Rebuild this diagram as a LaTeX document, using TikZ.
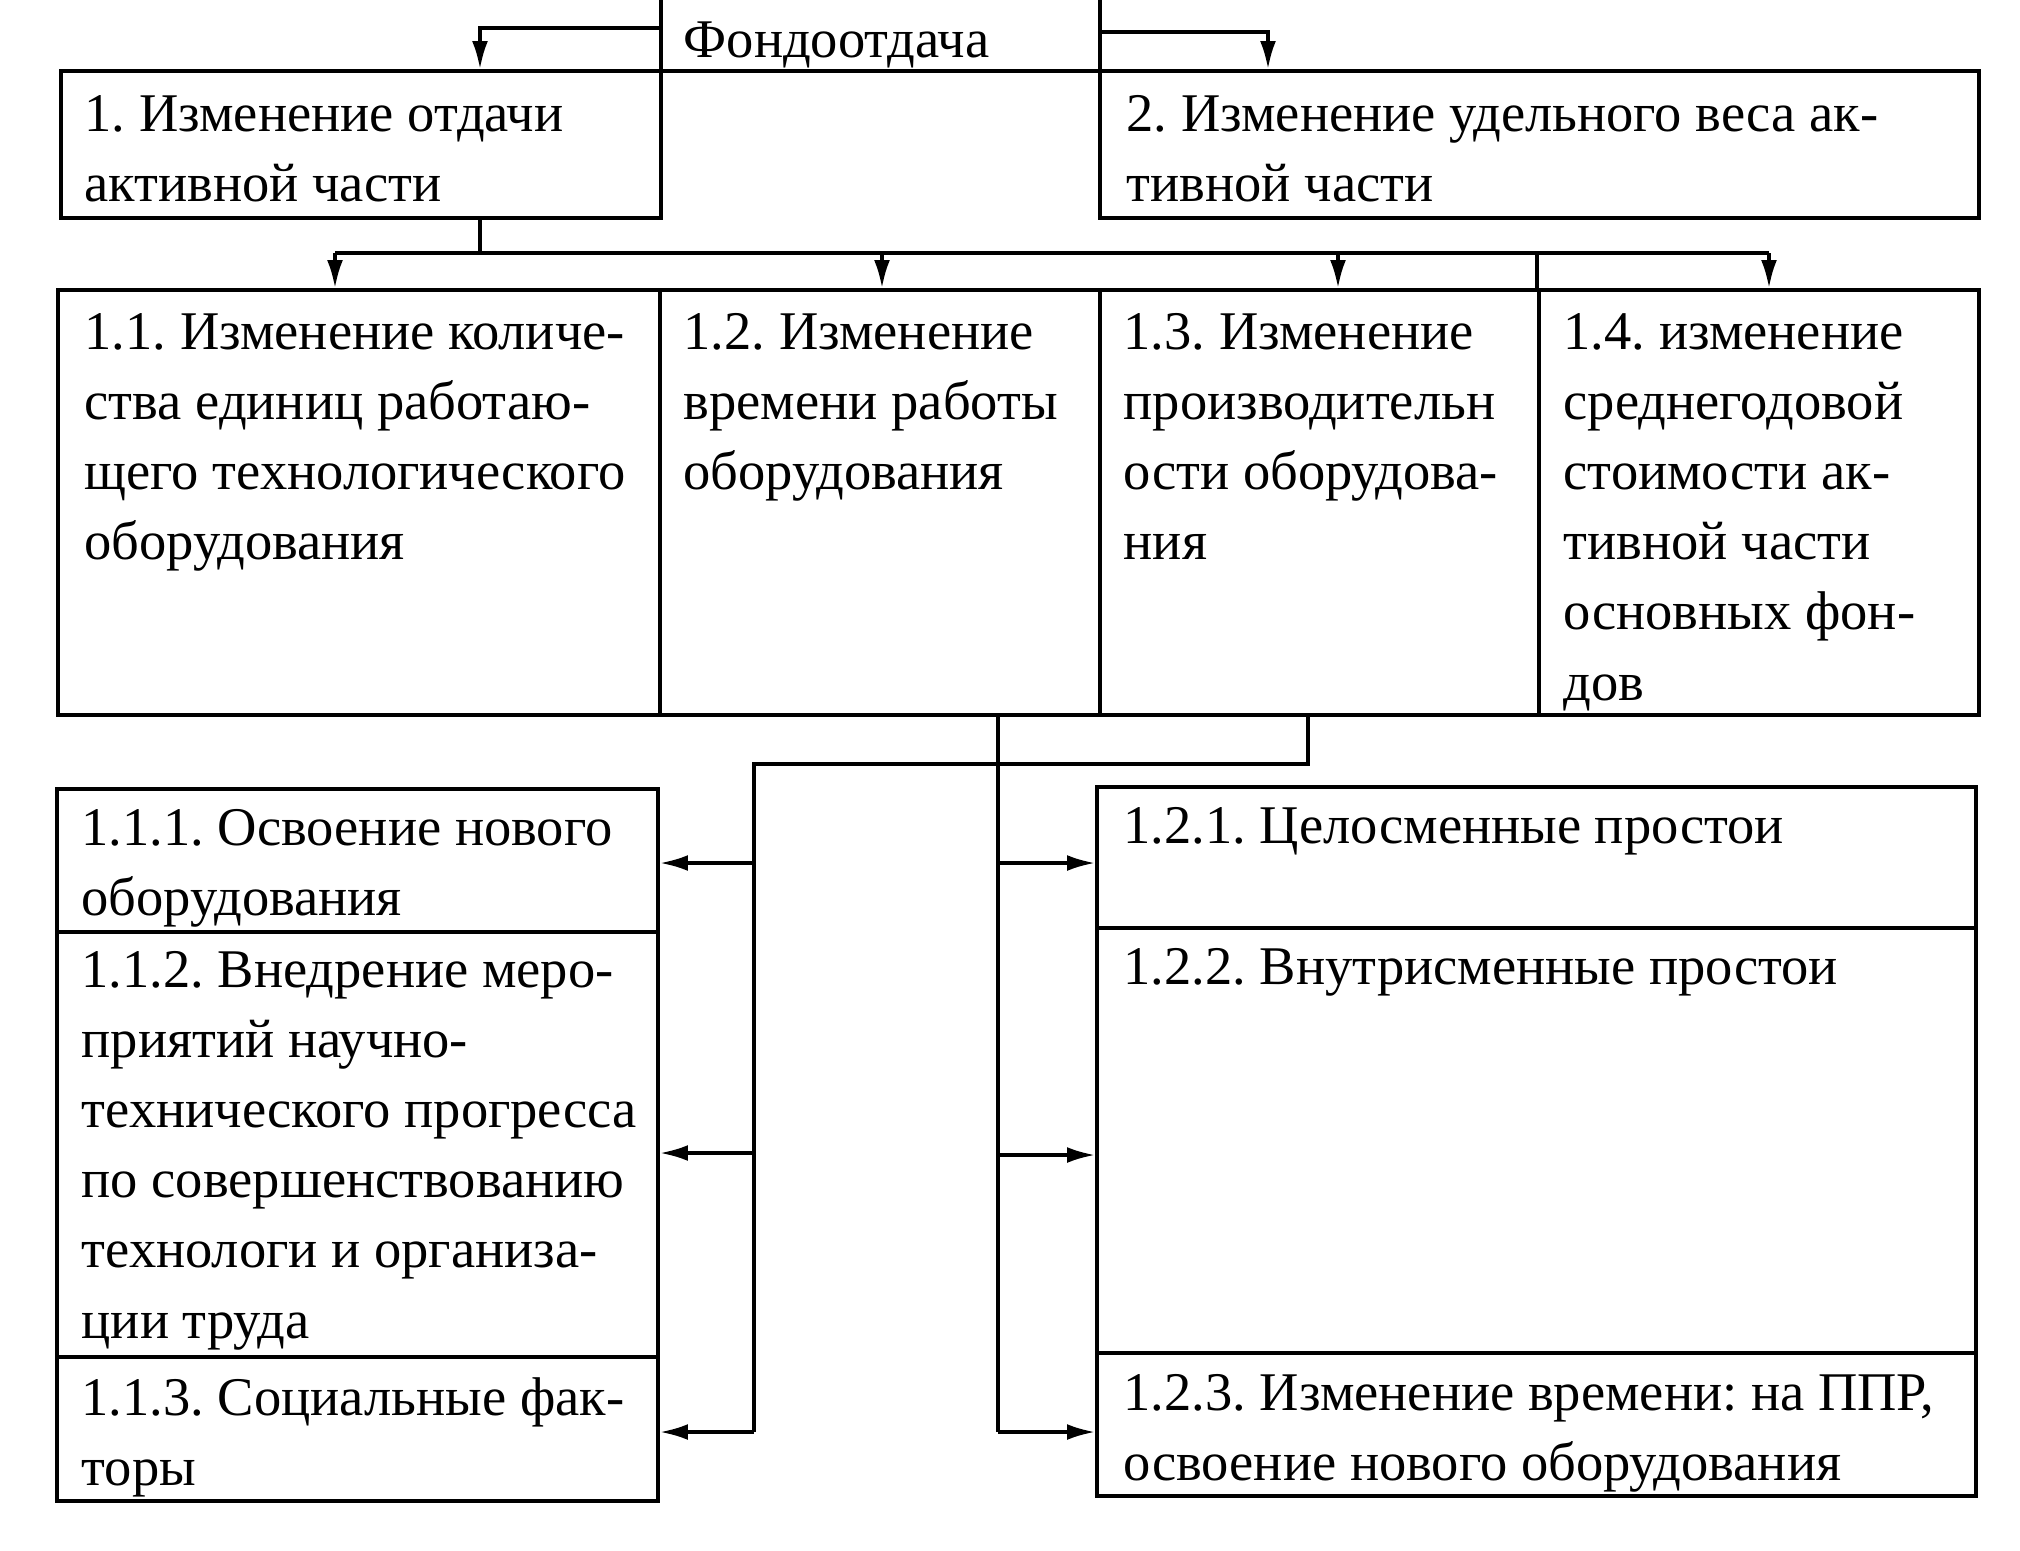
\documentclass[tikz,border=0pt]{standalone}
\usepackage{fontspec}
\setmainfont{Liberation Serif}
\usetikzlibrary{arrows.meta,fit,calc}
\newcommand\firstline{\rule{0pt}{0.56cm}}
\begin{document}
\frenchspacing
\begin{tikzpicture}[x=0.01cm,y=-0.01cm,
  boxs/.style={draw, line width=1pt, inner sep=0pt, rectangle},
  txt/.style={anchor=north west, inner sep=0pt, align=left, font=\fontsize{15.5}{19.92}\selectfont\frenchspacing},
  conn/.style={line width=1pt},
  arr/.style={conn, -{Latex[length=8pt,width=4.5pt]}}]
\fill[white] (0,0) rectangle (2020,1550);
\useasboundingbox (0,0) rectangle (2020,1550);

% boxes
\node[boxs, fit={(661,-5) (1100,71)}] (f) {};
\node[boxs, fit={(61,71) (661,218)}] (b1) {};
\node[boxs, fit={(1100,71) (1979,218)}] (b2) {};
\node[boxs, fit={(58,290) (660,715)}] (b11) {};
\node[boxs, fit={(660,290) (1100,715)}] (b12) {};
\node[boxs, fit={(1100,290) (1539,715)}] (b13) {};
\node[boxs, fit={(1539,290) (1979,715)}] (b14) {};
\node[boxs, fit={(57,789) (658,932)}] (b111) {};
\node[boxs, fit={(57,932) (658,1357)}] (b112) {};
\node[boxs, fit={(57,1357) (658,1501)}] (b113) {};
\node[boxs, fit={(1097,787) (1976,928)}] (b121) {};
\node[boxs, fit={(1097,928) (1976,1353)}] (b122) {};
\node[boxs, fit={(1097,1353) (1976,1496)}] (b123) {};

% texts
\node[txt] (tf) at (683,1) {\firstline Фондоотдача};
\node[txt] (t1) at (84,75) {\firstline 1. Изменение отдачи\\активной части};
\node[txt] (t2) at (1126,75) {\firstline 2. Изменение удельного веса ак-\\тивной части};
\node[txt] (t11) at (84,293) {\firstline 1.1. Изменение количе-\\ства единиц работаю-\\щего технологического\\оборудования};
\node[txt] (t12) at (683,293) {\firstline 1.2. Изменение\\времени работы\\оборудования};
\node[txt] (t13) at (1123,293) {\firstline 1.3. Изменение\\производительн\\ости оборудова-\\ния};
\node[txt] (t14) at (1563,293) {\firstline 1.4. изменение\\среднегодовой\\стоимости ак-\\тивной части\\основных фон-\\дов};
\node[txt] (t111) at (81,789) {\firstline 1.1.1. Освоение нового\\оборудования};
\node[txt] (t112) at (81,931) {\firstline 1.1.2. Внедрение меро-\\приятий научно-\\технического прогресса\\по совершенствованию\\технологи и организа-\\ции труда};
\node[txt] (t113) at (81,1359) {\firstline 1.1.3. Социальные фак-\\торы};
\node[txt] (t121) at (1123,787) {\firstline 1.2.1. Целосменные простои};
\node[txt] (t122) at (1123,928) {\firstline 1.2.2. Внутрисменные простои};
\node[txt] (t123) at (1123,1354) {\firstline 1.2.3. Изменение времени: на ППР,\\освоение нового оборудования};

% top connectors
\coordinate (k1) at (480,28);
\coordinate (k2) at (1268,32);
\draw[arr] (f.west |- k1) -- (k1) -- (b1.north -| k1);
\draw[arr] (f.east |- k2) -- (k2) -- (b2.north -| k2);

\coordinate (h) at (480,253);
\coordinate (a1) at (335,253);
\coordinate (a2) at (882,253);
\coordinate (a3) at (1338,253);
\coordinate (a4) at (1769,253);
\draw[conn] (b1.south -| h) -- (h);
\draw[conn] (a1) -- (a4);
\draw[arr] (a1) -- (b11.north -| a1);
\draw[arr] (a2) -- (b12.north -| a2);
\draw[arr] (a3) -- (b13.north -| a3);
\draw[arr] (a4) -- (b14.north -| a4);
\draw[conn] (b14.north west) -- (b14.north west |- a4);

% lower connectors
\coordinate (m1) at (1308,764);
\coordinate (m2) at (754,764);
\coordinate (l1) at (754,863);
\coordinate (l2) at (754,1153);
\coordinate (l3) at (754,1432);
\draw[conn] (b13.south -| m1) -- (m1) -- (m2) -- (l3);
\draw[arr] (l1) -- (b111.east |- l1);
\draw[arr] (l2) -- (b112.east |- l2);
\draw[arr] (l3) -- (b113.east |- l3);

\coordinate (r1) at (998,863);
\coordinate (r2) at (998,1155);
\coordinate (r3) at (998,1432);
\draw[conn] (b12.south -| r3) -- (r3);
\draw[arr] (r1) -- (b121.west |- r1);
\draw[arr] (r2) -- (b122.west |- r2);
\draw[arr] (r3) -- (b123.west |- r3);
\end{tikzpicture}
\end{document}
